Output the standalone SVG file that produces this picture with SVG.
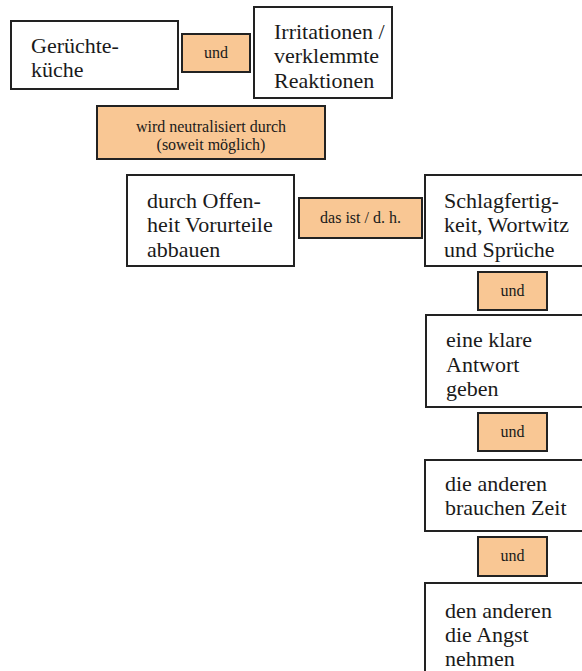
<svg xmlns="http://www.w3.org/2000/svg" width="582" height="671" viewBox="0 0 582 671">
  <style>
    .node rect { fill: #ffffff; stroke: #222222; stroke-width: 2; }
    .label rect { fill: #F9C794; stroke: #222222; stroke-width: 2; }
    .node text { font-family: "Liberation Serif", "DejaVu Serif", serif; font-size: 22px; fill: #1a1a1a; }
    .label text { font-family: "Liberation Serif", "DejaVu Serif", serif; font-size: 16px; fill: #1a1a1a; text-anchor: middle; }
  </style>
  <rect x="0" y="0" width="582" height="671" fill="#ffffff"/>
  <g id="connectors"/>
  <g id="n1" class="node">
    <rect x="11" y="21" width="167" height="68"/>
    <text x="31" y="53">Gerüchte-</text>
    <text x="31" y="77">küche</text>
  </g>
  <g id="l1" class="label">
    <rect x="182" y="34" width="68" height="38"/>
    <text x="216" y="58">und</text>
  </g>
  <g id="n2" class="node">
    <rect x="254" y="7" width="138" height="91"/>
    <text x="274" y="39">Irritationen /</text>
    <text x="274" y="63">verklemmte</text>
    <text x="274" y="88">Reaktionen</text>
  </g>
  <g id="l2" class="label">
    <rect x="97" y="106" width="228" height="53"/>
    <text x="211" y="132">wird neutralisiert durch</text>
    <text x="211" y="150">(soweit möglich)</text>
  </g>
  <g id="n3" class="node">
    <rect x="127" y="175" width="167" height="91"/>
    <text x="147" y="208">durch Offen-</text>
    <text x="147" y="232">heit Vorurteile</text>
    <text x="147" y="257">abbauen</text>
  </g>
  <g id="l3" class="label">
    <rect x="299" y="198" width="123" height="40"/>
    <text x="360.5" y="223">das ist / d. h.</text>
  </g>
  <g id="n4" class="node">
    <rect x="425" y="175" width="170" height="91"/>
    <text x="444" y="208">Schlagfertig-</text>
    <text x="444" y="232">keit, Wortwitz</text>
    <text x="444" y="257">und Sprüche</text>
  </g>
  <g id="l4" class="label">
    <rect x="478" y="272" width="69" height="38"/>
    <text x="512.5" y="296">und</text>
  </g>
  <g id="n5" class="node">
    <rect x="426" y="315" width="170" height="92"/>
    <text x="446" y="347">eine klare</text>
    <text x="446" y="372">Antwort</text>
    <text x="446" y="396">geben</text>
  </g>
  <g id="l5" class="label">
    <rect x="478" y="413" width="69" height="38"/>
    <text x="512.5" y="437">und</text>
  </g>
  <g id="n6" class="node">
    <rect x="425" y="460" width="170" height="71"/>
    <text x="445" y="491">die anderen</text>
    <text x="445" y="515">brauchen Zeit</text>
  </g>
  <g id="l6" class="label">
    <rect x="478" y="537" width="69" height="39"/>
    <text x="512.5" y="561">und</text>
  </g>
  <g id="n7" class="node">
    <rect x="425" y="583" width="170" height="100"/>
    <text x="445" y="618" font-size="21">den anderen</text>
    <text x="445" y="642" font-size="21">die Angst</text>
    <text x="445" y="666" font-size="21">nehmen</text>
  </g>
</svg>
